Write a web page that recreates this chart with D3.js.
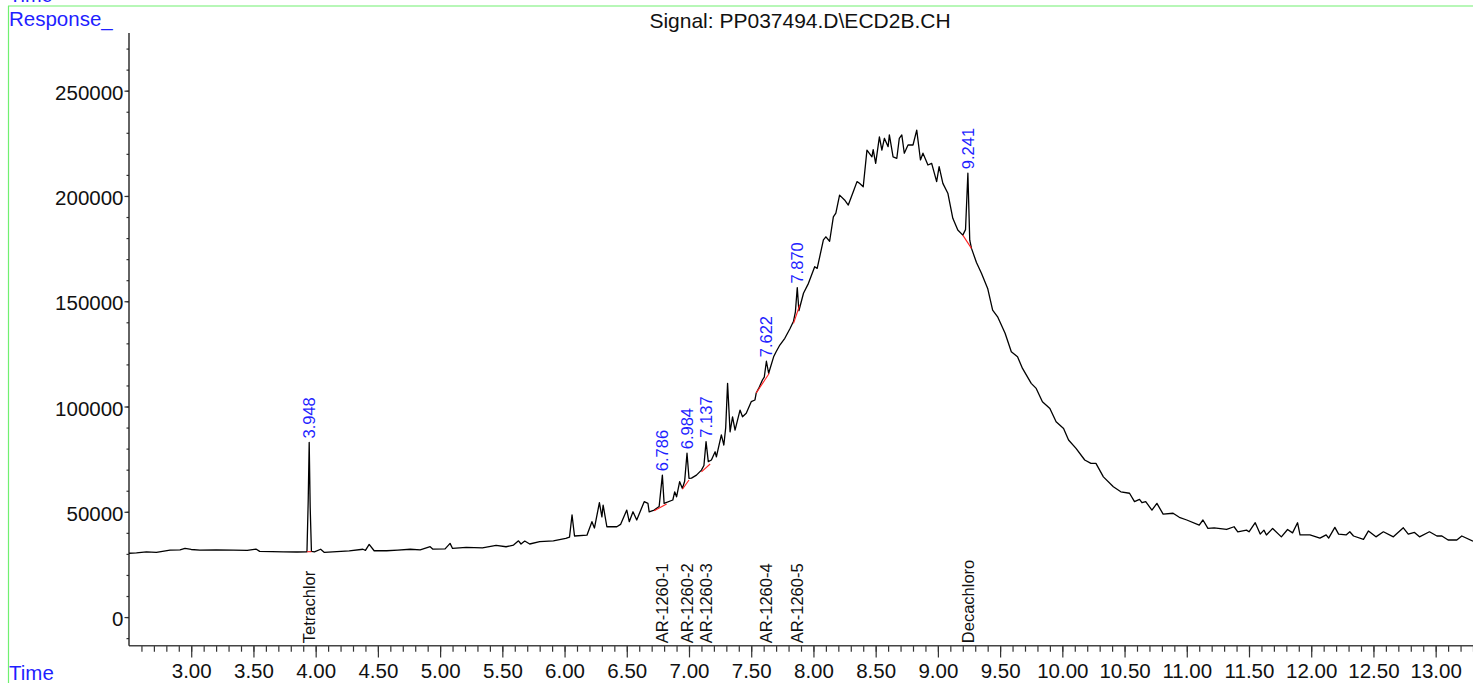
<!DOCTYPE html>
<html>
<head>
<meta charset="utf-8">
<script src="https://cdn.jsdelivr.net/npm/d3@7"></script>
<style>
    body { margin: 0; background: #fff; }
    text { font-family: "Liberation Sans", Arial, sans-serif; }
</style>
</head>
<body>
<div id="chart-area"></div>
<script>

// ---- data ----

var signalName = "Signal: PP037494.D\\ECD2B.CH";

// [retention time (min), response]
var trace = [
    [2.50, 30300], [2.56, 30500], [2.64, 31000], [2.72, 30700], [2.83, 31800], [2.91, 31900],
    [2.95, 32600], [3.00, 32100], [3.07, 31800], [3.20, 31900], [3.34, 31800], [3.45, 31700],
    [3.52, 32300], [3.55, 31200], [3.65, 31100], [3.74, 31000], [3.85, 30900], [3.93, 31000],
    [3.940, 55000], [3.948, 82900], [3.956, 52000], [3.966, 31200], [3.99, 31000], [4.04, 32200],
    [4.07, 30700], [4.17, 31100], [4.27, 31400], [4.38, 32200], [4.40, 31700], [4.43, 34500],
    [4.47, 31500], [4.57, 31500], [4.66, 31800], [4.76, 32200], [4.84, 31900], [4.92, 33400],
    [4.94, 32300], [5.04, 32400], [5.08, 35000], [5.10, 32600], [5.21, 33100], [5.34, 32900],
    [5.45, 34000], [5.53, 33400], [5.59, 34200], [5.63, 36200], [5.65, 34700], [5.68, 36100],
    [5.72, 34700], [5.80, 35800], [5.91, 36200], [6.01, 37400], [6.04, 38000], [6.06, 48500],
    [6.08, 38500], [6.18, 38900], [6.22, 45300], [6.24, 42300], [6.28, 54300], [6.30, 47600],
    [6.31, 53200], [6.34, 42900], [6.42, 42900], [6.45, 44000], [6.50, 50800], [6.52, 45300],
    [6.55, 50000], [6.58, 46100], [6.64, 54800], [6.67, 54000], [6.68, 50000], [6.72, 50800],
    [6.76, 52500], [6.786, 67400], [6.80, 54000], [6.87, 55600], [6.885, 59500], [6.90, 57100],
    [6.925, 64300], [6.947, 61100], [6.965, 64500], [6.984, 77800], [7.00, 65900], [7.02, 66000],
    [7.06, 67400], [7.10, 69800], [7.12, 72000], [7.137, 83300], [7.155, 73800], [7.18, 74600],
    [7.21, 78500], [7.22, 76100], [7.26, 86500], [7.28, 81700], [7.295, 90000], [7.31, 111000],
    [7.33, 88000], [7.35, 95100], [7.37, 88800], [7.41, 98300], [7.43, 95100], [7.46, 96800],
    [7.50, 102300], [7.53, 103100], [7.54, 106400], [7.56, 108600], [7.59, 112600], [7.605, 114000],
    [7.622, 121500], [7.64, 115800], [7.68, 123600], [7.70, 126000], [7.73, 129200], [7.77, 132400],
    [7.81, 136800], [7.84, 140500], [7.855, 145000], [7.870, 156500], [7.883, 145500], [7.92, 153800],
    [7.96, 158500], [8.01, 166400], [8.03, 165600], [8.08, 179100], [8.10, 180600], [8.13, 178500],
    [8.16, 190100], [8.18, 191800], [8.21, 200400], [8.25, 198100], [8.28, 195700], [8.32, 202000],
    [8.35, 206800], [8.37, 206000], [8.40, 204400], [8.43, 221800], [8.47, 218600], [8.48, 222000],
    [8.50, 215500], [8.53, 228100], [8.55, 221800], [8.57, 227400], [8.60, 223400], [8.61, 229000],
    [8.64, 218600], [8.67, 217900], [8.69, 227400], [8.71, 229000], [8.73, 220300], [8.76, 224200],
    [8.80, 224200], [8.83, 231300], [8.86, 217100], [8.88, 220300], [8.92, 214700], [8.95, 215500],
    [8.99, 206800], [9.01, 213900], [9.04, 206000], [9.08, 201300], [9.12, 189400], [9.16, 183800],
    [9.20, 181400], [9.222, 184000], [9.241, 210800], [9.256, 179000], [9.27, 175100], [9.31, 168400],
    [9.35, 163300], [9.40, 156100], [9.44, 145800], [9.48, 142600], [9.54, 134800], [9.59, 126000],
    [9.64, 123600], [9.68, 118100], [9.75, 111000], [9.79, 108600], [9.84, 102300], [9.90, 99100],
    [9.95, 92800], [10.01, 89600], [10.05, 84100], [10.11, 80100], [10.18, 74600], [10.23, 73000],
    [10.27, 73000], [10.30, 69800], [10.33, 66600], [10.41, 61900], [10.47, 59500], [10.54, 58800],
    [10.58, 54800], [10.62, 55900], [10.64, 54300], [10.67, 54800], [10.72, 50800], [10.76, 54000],
    [10.81, 48900], [10.89, 49300], [10.94, 47400], [11.00, 46100], [11.10, 43700], [11.13, 46100],
    [11.17, 42100], [11.22, 42400], [11.32, 41600], [11.38, 42900], [11.41, 40500], [11.48, 41300],
    [11.50, 40500], [11.55, 44800], [11.59, 39400], [11.62, 41300], [11.64, 39000], [11.69, 42100],
    [11.76, 38100], [11.81, 41600], [11.85, 40000], [11.89, 44800], [11.91, 39000], [11.99, 39000],
    [12.07, 37500], [12.12, 39000], [12.14, 37500], [12.19, 42600], [12.22, 39400], [12.28, 39000],
    [12.31, 40500], [12.34, 38500], [12.42, 36900], [12.46, 40900], [12.52, 38100], [12.58, 40500],
    [12.66, 38100], [12.74, 42400], [12.78, 39400], [12.83, 40200], [12.87, 38100], [12.95, 40500],
    [13.01, 38500], [13.05, 38500], [13.10, 36600], [13.17, 36600], [13.21, 38500], [13.30, 36000]
];

// integrated peaks: retention time and apex response
var peakTimes = [3.948, 6.786, 6.984, 7.137, 7.622, 7.870, 9.241];
var peakApex = [82900, 67400, 77800, 83300, 121500, 156500, 210800];

// compound names shown at the expected retention times
var compoundNames = ["Tetrachlor", "AR-1260-1", "AR-1260-2", "AR-1260-3", "AR-1260-4", "AR-1260-5", "Decachloro"];

// integration baselines: [start time, start response, end time, end response]
var baselines = [
    [3.930, 31000, 3.966, 31100],
    [6.72, 50500, 6.82, 53700],
    [6.947, 60700, 7.00, 65100],
    [7.10, 69000, 7.17, 72700],
    [7.54, 106500, 7.645, 115800],
    [7.84, 139500, 7.89, 148200],
    [9.20, 181400, 9.27, 175100]
];

var timeDomain = [2.5, 13.3];
var responseDomain = [-13600, 277400];
var timeMajorTicks = d3.range(6, 27).map(function(i) { return i / 2; });          // 3.00 .. 13.00
var timeMinorTicks = d3.range(26, 134).map(function(i) { return i / 10; });       // 2.6 .. 13.3
var responseMajorTicks = [0, 50000, 100000, 150000, 200000, 250000];
var responseMinorTicks = d3.range(-1, 28).map(function(i) { return i * 10000; });


/*
 * Chromatogram - Object constructor function
 * @param _parentElement    -- the HTML element in which to draw the trace
 */

Chromatogram = function(_parentElement) {
    this.parentElement = _parentElement;
    this.initVis();
}

Chromatogram.prototype.initVis = function() {
    var vis = this;

    vis.fullWidth = 1473;
    vis.fullHeight = 683;
    vis.margin = {top: 33, right: 0, bottom: 37.3, left: 129};
    vis.width = vis.fullWidth - vis.margin.left - vis.margin.right;
    vis.height = vis.fullHeight - vis.margin.top - vis.margin.bottom;

    vis.root = d3.select("#" + vis.parentElement).append("svg")
        .attr("width", vis.fullWidth)
        .attr("height", vis.fullHeight);

    // green frame left over from the report page
    vis.root.append("line")
        .attr("x1", 8).attr("x2", vis.fullWidth)
        .attr("y1", 6).attr("y2", 6)
        .attr("stroke", "#70f070").attr("stroke-width", 1.2);
    vis.root.append("line")
        .attr("x1", 8.5).attr("x2", 8.5)
        .attr("y1", 6).attr("y2", vis.fullHeight)
        .attr("stroke", "#70f070").attr("stroke-width", 1.2);

    // text around the frame (the top "Time" is cut by the page edge, as in the print)
    vis.root.append("text")
        .attr("x", 9).attr("y", 2)
        .attr("font-size", 20).attr("fill", "#1f1fff")
        .text("Time");
    vis.root.append("text")
        .attr("x", 9).attr("y", 26)
        .attr("font-size", 20.5).attr("fill", "#1f1fff")
        .text("Response_");
    vis.root.append("text")
        .attr("x", 9).attr("y", 680)
        .attr("font-size", 20.5).attr("fill", "#1f1fff")
        .text("Time");
    vis.root.append("text")
        .attr("x", 800).attr("y", 28)
        .attr("text-anchor", "middle")
        .attr("font-size", 21)
        .attr("fill", "#111")
        .text(signalName);

    vis.svg = vis.root.append("g")
        .attr("transform", "translate(" + vis.margin.left + "," + vis.margin.top + ")");

    // Scales
    vis.x = d3.scaleLinear().domain(timeDomain).range([0, vis.width]);
    vis.y = d3.scaleLinear().domain(responseDomain).range([vis.height, 0]);

    vis.drawAxes();
    vis.drawVis();
}

Chromatogram.prototype.drawAxes = function() {
    var vis = this;

    // x axis: minor ticks every 0.1 min, labelled major ticks every 0.5 min
    var xMinor = vis.svg.append("g")
        .attr("transform", "translate(0," + vis.height + ")")
        .call(d3.axisBottom(vis.x).tickValues(timeMinorTicks).tickSize(6).tickSizeOuter(0).tickFormat(""));
    var xMajor = vis.svg.append("g")
        .attr("transform", "translate(0," + vis.height + ")")
        .call(d3.axisBottom(vis.x).tickValues(timeMajorTicks).tickSize(11.7).tickSizeOuter(0)
            .tickPadding(5.7).tickFormat(d3.format(".2f")));

    // y axis
    var yMinor = vis.svg.append("g")
        .call(d3.axisLeft(vis.y).tickValues(responseMinorTicks).tickSize(2.5).tickSizeOuter(0).tickFormat(""));
    var yMajor = vis.svg.append("g")
        .call(d3.axisLeft(vis.y).tickValues(responseMajorTicks).tickSize(4.5).tickSizeOuter(0)
            .tickPadding(1).tickFormat(d3.format("d")));

    [xMinor, xMajor, yMinor, yMajor].forEach(function(g) {
        g.select(".domain").remove();
        g.selectAll(".tick line").attr("stroke", "#333").attr("stroke-width", 1.2);
        g.selectAll(".tick text")
            .attr("font-family", "Liberation Sans, Arial, sans-serif")
            .attr("font-size", 20.5)
            .attr("fill", "#111");
    });
    yMajor.selectAll(".tick text").attr("dy", "0.42em");

    // axis lines
    vis.svg.append("line")
        .attr("x1", 0).attr("x2", vis.width)
        .attr("y1", vis.height).attr("y2", vis.height)
        .attr("stroke", "#444").attr("stroke-width", 1.4);
    vis.svg.append("line")
        .attr("x1", 0).attr("x2", 0)
        .attr("y1", 0).attr("y2", vis.height)
        .attr("stroke", "#222").attr("stroke-width", 1.4);
}

Chromatogram.prototype.drawVis = function() {
    var vis = this;

    vis.line = d3.line()
        .x(function(d) { return vis.x(d[0]); })
        .y(function(d) { return vis.y(d[1]); });

    // Signal trace
    vis.svg.append("path")
        .datum(trace)
        .attr("d", vis.line)
        .attr("fill", "none")
        .attr("stroke", "#000")
        .attr("stroke-width", 1.3)
        .attr("stroke-linejoin", "round");

    // Integration baselines
    vis.svg.selectAll(".baseline")
        .data(baselines)
        .enter().append("line")
        .attr("class", "baseline")
        .attr("x1", function(d) { return vis.x(d[0]); })
        .attr("y1", function(d) { return vis.y(d[1]); })
        .attr("x2", function(d) { return vis.x(d[2]); })
        .attr("y2", function(d) { return vis.y(d[3]); })
        .attr("stroke", "#ff2020")
        .attr("stroke-width", 1.1);

    // Retention time labels above each integrated peak
    vis.svg.selectAll(".rt-label")
        .data(peakTimes)
        .enter().append("text")
        .attr("class", "rt-label")
        .attr("transform", function(d, i) {
            return "translate(" + vis.x(d) + "," + (vis.y(peakApex[i]) - 4) + ") rotate(-90)";
        })
        .attr("dy", "0.36em")
        .attr("font-size", 16.5)
        .attr("fill", "#1f1fff")
        .text(function(d) { return d3.format(".3f")(d); });

    // Compound names along the time axis
    vis.svg.selectAll(".compound-label")
        .data(compoundNames)
        .enter().append("text")
        .attr("class", "compound-label")
        .attr("transform", function(d, i) {
            return "translate(" + vis.x(peakTimes[i]) + "," + (vis.height - 2.5) + ") rotate(-90)";
        })
        .attr("dy", "0.36em")
        .attr("font-size", 16.5)
        .attr("fill", "#111")
        .text(function(d) { return d; });
}

var chart = new Chromatogram("chart-area");

</script>
</body>
</html>
